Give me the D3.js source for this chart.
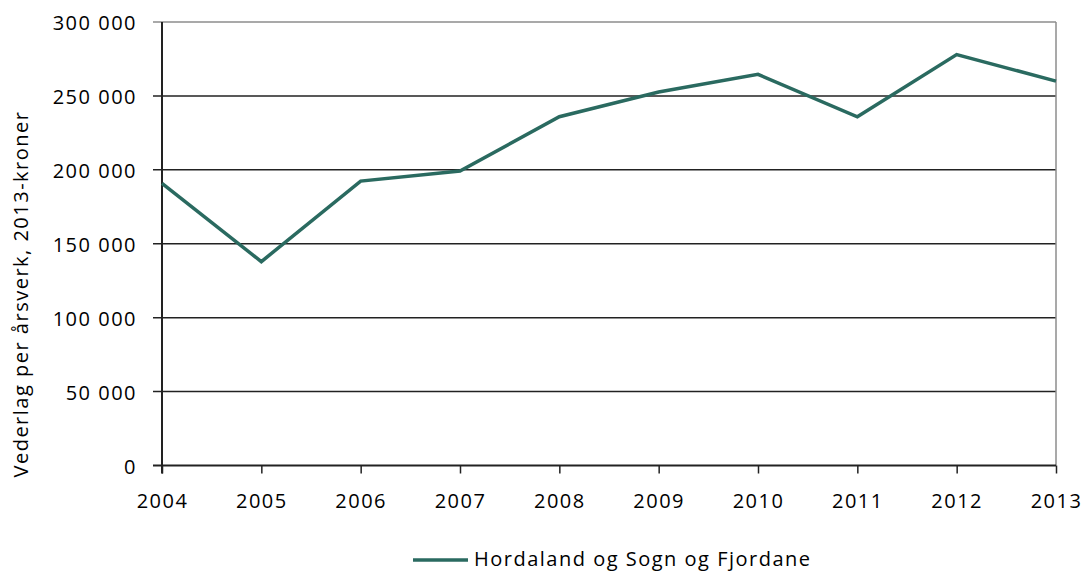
<!DOCTYPE html>
<html>
<head>
<meta charset="utf-8">
<script src="https://cdn.jsdelivr.net/npm/d3@7"></script>
<style>
  body { margin: 0; background: #fff; }
  svg text { font-family: "Open Sans", sans-serif; fill: #000; }
</style>
</head>
<body>
<svg id="chart" width="1085" height="573"></svg>
<script>
"use strict";

var years = [2004, 2005, 2006, 2007, 2008, 2009, 2010, 2011, 2012, 2013];
var values = [190900, 137900, 192400, 199200, 235900, 252600, 264600, 235900, 278000, 260000];
var y_ticks = [0, 50000, 100000, 150000, 200000, 250000, 300000];
var series_name = "Hordaland og Sogn og Fjordane";
var y_title = "Vederlag per årsverk, 2013-kroner";

var margin = { left: 162, right: 1056, top: 22, bottom: 465.5 };
var line_colour = "#2a6a60";
var font_size = '20px';
var spacing = '1.5px';

var svg = d3.select('#chart');

var x = d3.scalePoint().domain(years).range([margin.left, margin.right]);
var y = d3.scaleLinear().domain([0, 300000]).range([margin.bottom, margin.top]);

function fmt( v ) {
    return d3.format(',')(v).replace(/,/g, ' ');
}

// grid lines
svg.append('g').selectAll('line')
    .data(y_ticks.filter(function(d) { return d > 0; }))
    .enter().append('line')
        .attr('x1', margin.left - 9).attr('x2', margin.right)
        .attr('y1', function(d) { return y(d); }).attr('y2', function(d) { return y(d); })
        .attr('stroke', function(d) { return d === 300000 ? '#8c8c8c' : '#222'; })
        .attr('stroke-width', 1.5);

// right border
svg.append('line')
    .attr('x1', margin.right).attr('x2', margin.right)
    .attr('y1', margin.top).attr('y2', margin.bottom)
    .attr('stroke', '#8c8c8c').attr('stroke-width', 1.5);

// y labels
svg.append('g').selectAll('text')
    .data(y_ticks)
    .enter().append('text')
        .attr('x', 137)
        .attr('y', function(d) { return y(d) + 8; })
        .attr('text-anchor', 'end')
        .style('font-size', font_size)
        .style('letter-spacing', spacing)
        .text(fmt);

// x axis
var xAxis = d3.axisBottom(x).tickSize(8).tickSizeOuter(0).tickPadding(20);
var gx = svg.append('g').attr('transform', 'translate(0,' + margin.bottom + ')').call(xAxis);
gx.select('.domain').attr('stroke', '#222').attr('stroke-width', 2).attr('d', 'M' + (margin.left - 9) + ',0H' + margin.right);
gx.selectAll('.tick line').attr('stroke', '#222').attr('stroke-width', 1.5);
gx.selectAll('.tick text')
    .style('font-size', font_size)
    .style('letter-spacing', spacing)
    .style('font-family', '"Open Sans", sans-serif')
    .attr('fill', '#000');

// y axis line
svg.append('line')
    .attr('x1', margin.left).attr('x2', margin.left)
    .attr('y1', margin.top).attr('y2', margin.bottom + 8)
    .attr('stroke', '#222').attr('stroke-width', 2);

// series
var line = d3.line()
    .x(function(d, i) { return x(years[i]); })
    .y(function(d) { return y(d); });

svg.append('path')
    .datum(values)
    .attr('d', line)
    .attr('fill', 'none')
    .attr('stroke', line_colour)
    .attr('stroke-width', 3.5)
    .attr('stroke-linejoin', 'miter');

// y title
svg.append('text')
    .attr('transform', 'translate(28,294) rotate(-90)')
    .attr('text-anchor', 'middle')
    .style('font-size', font_size)
    .style('letter-spacing', spacing)
    .text(y_title);

// legend
var lg = svg.append('g');
lg.append('line')
    .attr('x1', 413).attr('x2', 468).attr('y1', 560).attr('y2', 560)
    .attr('stroke', line_colour).attr('stroke-width', 3.5);
lg.append('text')
    .attr('x', 474).attr('y', 566)
    .style('font-size', font_size)
    .style('letter-spacing', spacing)
    .text(series_name);
</script>
</body>
</html>
